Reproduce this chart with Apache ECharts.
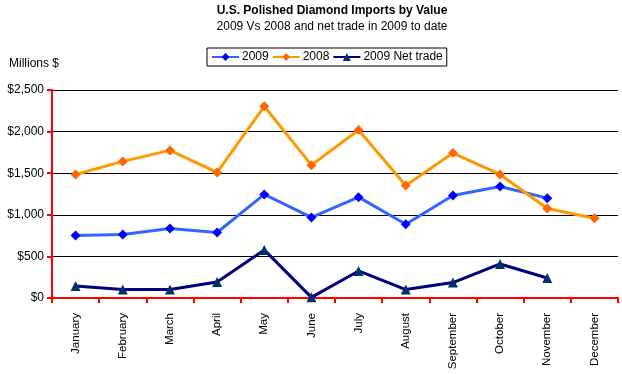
<!DOCTYPE html>
<html><head><meta charset="utf-8">
<script src="https://cdn.jsdelivr.net/npm/echarts@6/dist/echarts.min.js"></script>
<style>html,body{margin:0;padding:0;background:#fff}#c{width:622px;height:374px}</style>
</head><body><div id="c"></div>
<script>
const months = ['January','February','March','April','May','June','July','August','September','October','November','December'];
const s2009 = [751, 763, 835, 787, 1245, 968, 1212, 887, 1232, 1340, 1200, null];
const s2008 = [1485, 1642, 1774, 1509, 2304, 1597, 2019, 1353, 1742, 1485, 1076, 959];
const sNet = [144, 101, 101, 193, 578, 8, 325, 101, 185, 409, 241, null];
const yTicks = [0, 500, 1000, 1500, 2000, 2500];

const font = 'Liberation Sans, Arial, sans-serif';
const chart = echarts.init(document.getElementById('c'));
chart.setOption({
  animation: false,
  textStyle: {fontFamily: font},
  title: [
    {text: 'U.S. Polished Diamond Imports by Value', left: 327, textAlign: 'center', top: 0,
     textStyle: {fontSize: 12, fontWeight: 'bold', color: '#000', fontFamily: font}},
    {text: '2009 Vs 2008 and net trade in 2009 to date', left: 327, textAlign: 'center', top: 16,
     textStyle: {fontSize: 12, fontWeight: 'normal', color: '#000', fontFamily: font}},
    {text: 'Millions $', left: 4, top: 53, textStyle: {fontSize: 12, fontWeight: 'normal', color: '#000', fontFamily: font}}
  ],
  legend: {
    left: 207, top: 48, orient: 'horizontal',
    borderColor: '#000', borderWidth: 1, padding: [3, 4, 3, 4],
    itemGap: 3, itemWidth: 27, itemHeight: 10,
    textStyle: {fontSize: 12, color: '#000', fontFamily: font, padding: [0,0,0,-2]},
    data: ['2009', '2008', '2009 Net trade']
  },
  grid: {left: 52, right: 4, top: 90, bottom: 76},
  xAxis: {
    type: 'category', data: months, boundaryGap: true,
    axisLine: {lineStyle: {color: '#ff0000', width: 2}},
    axisTick: {show: true, length: 5, lineStyle: {color: '#ff0000', width: 2}},
    axisLabel: {rotate: 90, color: '#000', fontSize: 11.5, fontFamily: font, margin: 15}
  },
  yAxis: {
    type: 'value', min: 0, max: 2500, interval: 500,
    axisLine: {show: true, lineStyle: {color: '#ff0000', width: 2}},
    axisTick: {show: true, length: 5, lineStyle: {color: '#ff0000', width: 2}},
    splitLine: {lineStyle: {color: '#000', width: 1}},
    axisLabel: {color: '#000', fontSize: 12, fontFamily: font, margin: 8,
      formatter: v => '$' + v.toLocaleString('en-US')}
  },
  series: [
    {name: '2009', type: 'line', data: s2009, symbol: 'diamond', symbolSize: 10,
     lineStyle: {color: '#3366ff', width: 3}, itemStyle: {color: '#0000ff'}},
    {name: '2008', type: 'line', data: s2008, symbol: 'diamond', symbolSize: 10,
     lineStyle: {color: '#ff9900', width: 3}, itemStyle: {color: '#ff6600'}},
    {name: '2009 Net trade', type: 'line', data: sNet, symbol: 'triangle', symbolSize: 10,
     lineStyle: {color: '#000080', width: 3}, itemStyle: {color: '#003366'}}
  ]
});
</script></body></html>
